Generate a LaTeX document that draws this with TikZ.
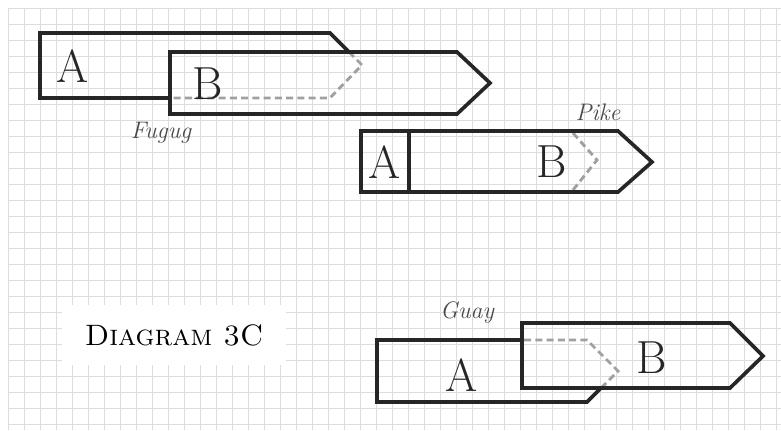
\documentclass[tikz,border=0pt]{standalone}
\usepackage{xcolor}
\usepackage{tikz}

\definecolor{inkdark}{HTML}{262626}
\definecolor{inkhidden}{HTML}{A0A0A0}
\definecolor{inkgrid}{HTML}{DDDDDD}
\definecolor{inklabel}{HTML}{4A4A4A}

\tikzset{
  gridline/.style={inkgrid,line width=0.6pt},
  tagline/.style={inkdark,line width=2.6pt,line join=miter},
  hiddenline/.style={inkhidden,line width=2pt,dashed,dash pattern=on 5pt off 3pt},
  letter/.style={inkdark,font=\fontsize{33}{36}\selectfont},
  kindname/.style={inklabel,font=\fontsize{17}{19}\selectfont\itshape},
}

\begin{document}
\begin{tikzpicture}[x=0.025cm,y=-0.025cm]
\useasboundingbox (0,0) rectangle (781,430);
\foreach \gx in {8,24,...,776} \draw[gridline] (\gx,8) -- (\gx,430);
\foreach \gy in {8,24,...,424} \draw[gridline] (8,\gy) -- (781,\gy);

% fugug
\draw[hiddenline] (349,52) -- (362,65) -- (330,98) -- (172,98);
\draw[tagline] (170,98) -- (40,98) -- (40,33) -- (330,33) -- (349,52);
\draw[tagline] (170,52) -- (457,52) -- (490,83) -- (457,114) -- (170,114) -- cycle;
\node[letter] (fugA) at (73,66) {A};
\node[letter] (fugB) at (208,84) {B};
\node[kindname] (fugname) at (161,133) {Fugug};

% pike
\draw[hiddenline] (573,133) -- (597,160) -- (573,190);
\draw[tagline] (361,131) -- (618,131) -- (652,162) -- (618,192) -- (361,192) -- cycle;
\draw[tagline] (409,131) -- (409,192);
\node[letter] (pikeA) at (385,162) {A};
\node[letter] (pikeB) at (552,162) {B};
\node[kindname] (pikename) at (598,112) {Pike};

% guay
\draw[hiddenline] (524,340) -- (587,340) -- (618,371) -- (601,388);
\draw[tagline] (522,340) -- (377,340) -- (377,402) -- (587,402) -- (601,388);
\draw[tagline] (522,323) -- (730,323) -- (763,356) -- (730,388) -- (522,388) -- cycle;
\node[letter] (guayA) at (462,375) {A};
\node[letter] (guayB) at (652,358) {B};
\node[kindname] (guayname) at (467,313) {Guay};

% title
\fill[white] (62,305) rectangle (286,365);
\node[black,font=\fontsize{21}{23}\selectfont\scshape] (title) at (174,335) {Diagram 3C};
\end{tikzpicture}
\end{document}
